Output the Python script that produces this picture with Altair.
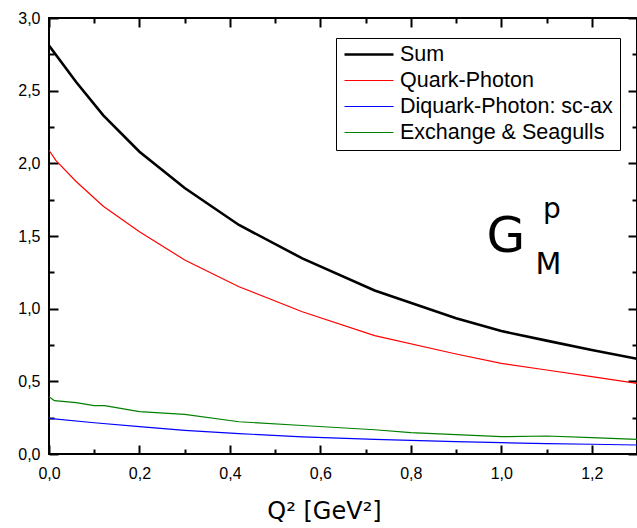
import altair as alt
import pandas as pd

# ---------------- data ----------------
series_names = ["Sum", "Quark-Photon", "Diquark-Photon: sc-ax", "Exchange & Seagulls"]
series_colors = ["#000000", "#ff0000", "#0000ff", "#008000"]
series_widths = [2.6, 1.2, 1.2, 1.2]

q2_sum = [0.0, 0.06, 0.12, 0.2, 0.3, 0.42, 0.56, 0.72, 0.9, 1.0, 1.1, 1.2, 1.3]
g_sum = [2.81, 2.56, 2.33, 2.08, 1.83, 1.576, 1.346, 1.125, 0.934, 0.846, 0.78, 0.716, 0.655]

q2_quark = [0.0, 0.015, 0.06, 0.12, 0.2, 0.3, 0.42, 0.56, 0.72, 0.9, 1.0, 1.1, 1.2, 1.3]
g_quark = [2.09, 2.02, 1.875, 1.705, 1.53, 1.335, 1.151, 0.979, 0.815, 0.688, 0.624, 0.578, 0.533, 0.486]

q2_diquark = [0.0, 0.1, 0.2, 0.3, 0.42, 0.56, 0.72, 0.9, 1.0, 1.1, 1.2, 1.3]
g_diquark = [0.245, 0.215, 0.188, 0.163, 0.14, 0.118, 0.1, 0.085, 0.078, 0.072, 0.067, 0.062]

q2_exch = [0.0, 0.012, 0.06, 0.1, 0.123, 0.2, 0.3, 0.42, 0.56, 0.72, 0.8, 0.9, 1.0, 1.1, 1.2, 1.3]
g_exch = [0.394, 0.367, 0.353, 0.333, 0.333, 0.291, 0.273, 0.222, 0.196, 0.167, 0.147, 0.133, 0.119, 0.124, 0.112, 0.101]

x_major = [0.0, 0.2, 0.4, 0.6, 0.8, 1.0, 1.2]
x_minor = [0.1, 0.3, 0.5, 0.7, 0.9, 1.1, 1.3]
y_major = [0.0, 0.5, 1.0, 1.5, 2.0, 2.5, 3.0]
y_minor = [0.25, 0.75, 1.25, 1.75, 2.25, 2.75]

label_texts = ["G", "p", "M"]
label_q2 = [1.01, 1.112, 1.104]
label_g = [1.39, 1.624, 1.239]
label_sizes = [50, 28, 30]

# ---------------- tables ----------------
rows = []
for name, xs, ys in zip(series_names,
                        [q2_sum, q2_quark, q2_diquark, q2_exch],
                        [g_sum, g_quark, g_diquark, g_exch]):
    for x, y in zip(xs, ys):
        rows.append({"series": name, "q2": x, "g": y})
df = pd.DataFrame(rows)

labels_df = pd.DataFrame({"text": label_texts, "q2": label_q2, "g": label_g, "fs": label_sizes})

W, H = 588, 436
x_scale = alt.Scale(domain=[0, 1.3], nice=False, zero=False)
y_scale = alt.Scale(domain=[0, 3.0], nice=False, zero=False)
comma = "replace(format(datum.value, '.1f'), '.', ',')"

legend = alt.Legend(
    title=None, orient="none", legendX=287, legendY=20, direction="vertical",
    symbolType="stroke", symbolSize=2401, clipHeight=19, rowPadding=4,
    labelFont="Liberation Sans", labelFontSize=21.5, labelColor="black", labelOffset=5,
    labelLimit=0, strokeColor="black", padding=7, fillColor="white",
)

lines = alt.Chart(df).mark_line(clip=True).encode(
    x=alt.X("q2:Q", scale=x_scale, axis=alt.Axis(
        orient="bottom", values=x_major, labelExpr=comma, ticks=False, domain=False, grid=False,
        labelFlush=False, labelOverlap=False,
        labelFont="Liberation Sans", labelFontSize=16, labelColor="black", labelPadding=11,
        title="Q² [GeV²]", titleFont="DejaVu Sans", titleFontSize=24, titleFontWeight="normal",
        titleColor="black", titleX=275, titleY=64, titleBaseline="alphabetic", titleAlign="center")),
    y=alt.Y("g:Q", scale=y_scale, axis=alt.Axis(
        orient="left", values=y_major, labelExpr=comma, ticks=False, domain=False, grid=False,
        labelFlush=False, labelOverlap=False,
        labelFont="Liberation Sans", labelFontSize=16, labelColor="black", labelPadding=9, title=None)),
    color=alt.Color("series:N", scale=alt.Scale(domain=series_names, range=series_colors), legend=legend),
    strokeWidth=alt.StrokeWidth("series:N", scale=alt.Scale(type="ordinal", domain=series_names, range=series_widths), legend=legend),
)


def tick_layer(xvals, yvals, x_orient, y_orient, size):
    return alt.Chart(df).mark_point(opacity=0).encode(
        x=alt.X("q2:Q", scale=x_scale, axis=alt.Axis(
            orient=x_orient, offset=-H, values=xvals, labels=False, domain=False, grid=False,
            tickSize=size, tickWidth=2, tickColor="black", title=None)),
        y=alt.Y("g:Q", scale=y_scale, axis=alt.Axis(
            orient=y_orient, offset=-W, values=yvals, labels=False, domain=False, grid=False,
            tickSize=size, tickWidth=2, tickColor="black", title=None)),
    )


ticks_bl_major = tick_layer(x_major, y_major, "top", "right", 9)
ticks_bl_minor = tick_layer(x_minor, y_minor, "top", "right", 5)
ticks_tr_major = tick_layer(x_major, y_major, "bottom", "left", 9)
ticks_tr_minor = tick_layer(x_minor, y_minor, "bottom", "left", 5)

annot = alt.Chart(labels_df).mark_text(
    font="DejaVu Sans", align="center", baseline="alphabetic", color="black"
).encode(
    x=alt.X("q2:Q", scale=x_scale, axis=None),
    y=alt.Y("g:Q", scale=y_scale, axis=None),
    text="text:N",
    size=alt.Size("fs:Q", scale=None),
)

chart = alt.layer(
    ticks_bl_major, ticks_bl_minor, ticks_tr_major, ticks_tr_minor, lines, annot
).resolve_axis(x="independent", y="independent").properties(
    width=W, height=H,
    padding={"left": 49, "top": 18, "right": 0, "bottom": 74},
    autosize=alt.AutoSizeParams(type="none"),
    background="white",
).configure_view(stroke="black", strokeWidth=2)

chart.save("out.html", embed_options={"renderer": "svg", "actions": False})
